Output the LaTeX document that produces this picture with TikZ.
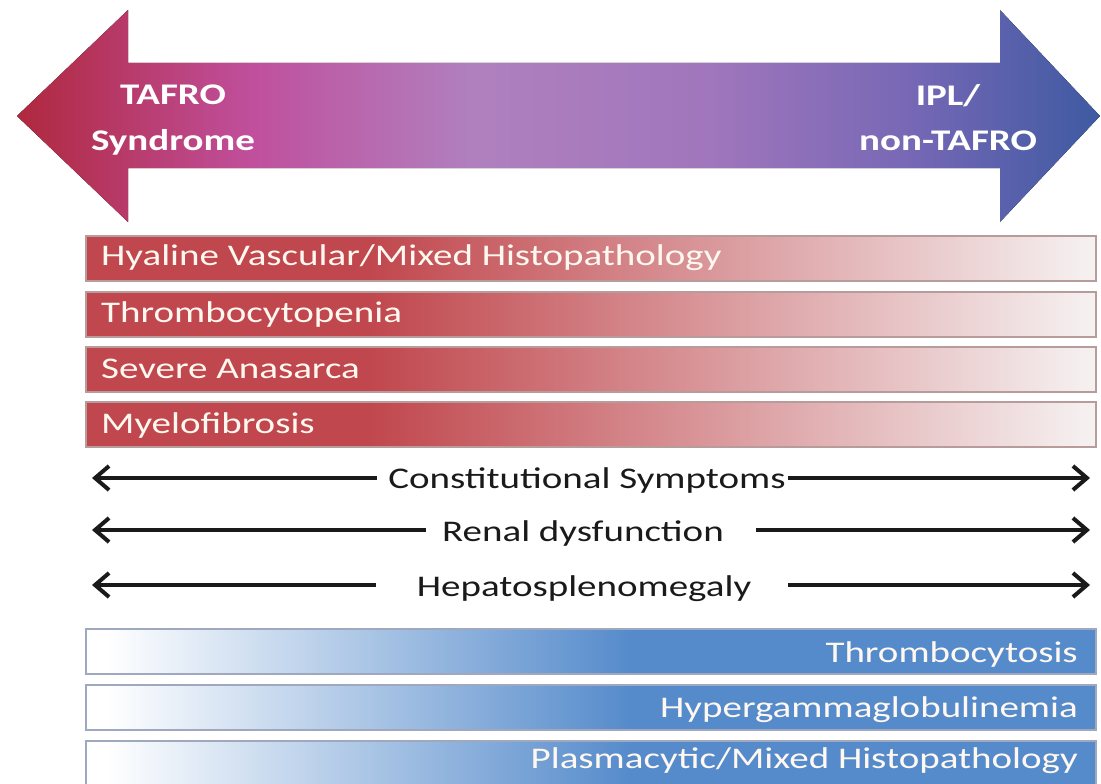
\documentclass[tikz,border=0pt]{standalone}
\usepackage{fontspec}
\setmainfont{Carlito}[FakeStretch=1.3]
\usetikzlibrary{arrows.meta}
\definecolor{ar1}{HTML}{B0283E}
\definecolor{ar2}{HTML}{C0509E}
\definecolor{ar3}{HTML}{B080BE}
\definecolor{ar4}{HTML}{A076BC}
\definecolor{ar5}{HTML}{7868B6}
\definecolor{ar6}{HTML}{3E5AA2}
\definecolor{barred}{HTML}{C0474D}
\definecolor{redfade}{HTML}{F6F2F2}
\definecolor{barblue}{HTML}{558BCB}
\definecolor{redline}{HTML}{B89C9C}
\definecolor{blueline}{HTML}{A0A8C0}
\definecolor{ink}{HTML}{1A1A1A}
\definecolor{cream}{HTML}{FFF8F0}
\pgfdeclarehorizontalshading{bigarrowshade}{100bp}{color(0bp)=(ar1); color(25bp)=(ar1); color(36bp)=(ar2); color(46bp)=(ar3); color(57bp)=(ar4); color(66bp)=(ar5); color(75bp)=(ar6); color(100bp)=(ar6)}
\pgfdeclarehorizontalshading{redbarshade}{100bp}{color(0bp)=(barred); color(39bp)=(barred); color(75bp)=(redfade); color(100bp)=(redfade)}
\pgfdeclarehorizontalshading{bluebarshade}{100bp}{color(0bp)=(white); color(26bp)=(white); color(52bp)=(barblue); color(100bp)=(barblue)}
\tikzset{
  redbar/.style={shade, shading=redbarshade, draw=redline, line width=1.5pt, minimum width=1010pt, minimum height=45pt, inner sep=0pt, anchor=north west},
  bluebar/.style={shade, shading=bluebarshade, draw=blueline, line width=1.5pt, minimum width=1010pt, minimum height=45pt, inner sep=0pt, anchor=north west},
  bartext/.style={text=cream, font=\fontsize{30}{36}\selectfont, inner sep=0pt},
  headtext/.style={text=white, font=\bfseries\fontsize{30}{36}\selectfont, inner sep=0pt, anchor=base},
  lbl/.style={text=ink, font=\fontsize{30}{36}\selectfont, inner sep=0pt, anchor=base},
  dbl/.style={draw=ink, line width=4pt, -{Straight Barb[length=14pt,width=24pt]}}
}
\begin{document}
\begin{tikzpicture}[x=1pt,y=-1pt]
\useasboundingbox (0,0) rectangle (1101,784);
% big double-headed arrow
\fill[shading=bigarrowshade] (17,116) -- (128,10) -- (128,63) -- (1000,63) -- (1000,10) -- (1100,116) -- (1000,222) -- (1000,168) -- (128,168) -- (128,222) -- cycle;
\node[headtext] (tafroA) at (173,105) {TAFRO};
\node[headtext] (tafroB) at (173,150) {Syndrome};
\node[headtext] (iplA) at (948,106) {IPL/};
\node[headtext] (iplB) at (948,150) {non-TAFRO};
% red bars
\node[redbar] (r1) at (85,235) {};
\node[redbar] (r2) at (85,291) {};
\node[redbar] (r3) at (85,346) {};
\node[redbar] (r4) at (85,401) {};
\node[bartext, anchor=base west] (t1) at (101,265) {Hyaline Vascular/Mixed Histopathology};
\node[bartext, anchor=base west] (t2) at (101,322) {Thrombocytopenia};
\node[bartext, anchor=base west] (t3) at (101,378) {Severe Anasarca};
\node[bartext, anchor=base west] (t4) at (101,433) {Myelofibrosis};
% double arrows
\node[lbl] (cs) at (587,488) {Constitutional Symptoms};
\node[lbl] (rd) at (583,541) {Renal dysfunction};
\node[lbl] (hs) at (584,596) {Hepatosplenomegaly};
\coordinate (L1) at (92,478);  \coordinate (R1) at (1090,478);
\coordinate (L2) at (92,530);  \coordinate (R2) at (1090,530);
\coordinate (L3) at (92,585);  \coordinate (R3) at (1090,585);
\draw[dbl] ([xshift=-11pt]L1 -| cs.west) -- (L1);
\draw[dbl] ([xshift=2pt]R1 -| cs.east) -- (R1);
\draw[dbl] ([xshift=-16pt]L2 -| rd.west) -- (L2);
\draw[dbl] ([xshift=32pt]R2 -| rd.east) -- (R2);
\draw[dbl] ([xshift=-41pt]L3 -| hs.west) -- (L3);
\draw[dbl] ([xshift=37pt]R3 -| hs.east) -- (R3);
% blue bars
\node[bluebar] (b1) at (85,628) {};
\node[bluebar] (b2) at (85,684) {};
\node[bluebar] (b3) at (85,740) {};
\node[bartext, anchor=base east] (u1) at (1078,662) {Thrombocytosis};
\node[bartext, anchor=base east] (u2) at (1078,717) {Hypergammaglobulinemia};
\node[bartext, anchor=base east] (u3) at (1078,768) {Plasmacytic/Mixed Histopathology};
\end{tikzpicture}
\end{document}
